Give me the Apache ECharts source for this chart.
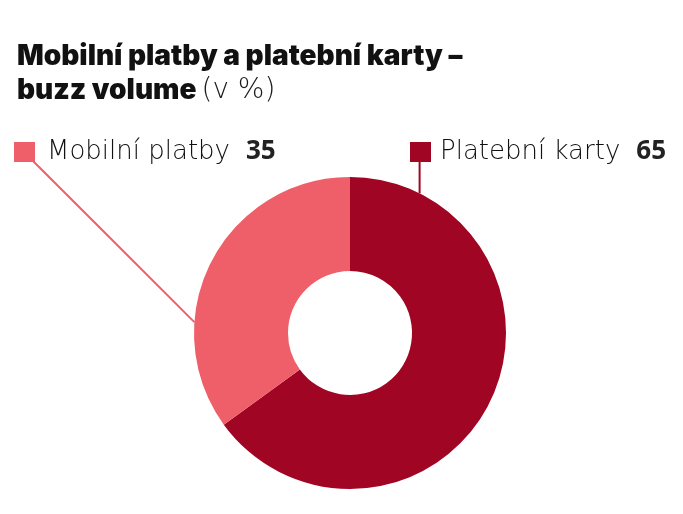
<!DOCTYPE html>
<html>
<head>
<meta charset="utf-8">
<script src="https://cdn.jsdelivr.net/npm/echarts@6/dist/echarts.min.js"></script>
<style>html,body{margin:0;padding:0;background:#fff}#c{width:683px;height:514px}</style>
</head>
<body>
<div id="c"></div>
<script>
const categories = ['Platební karty', 'Mobilní platby'];
const values = [65, 35];
const colors = ['#A10524', '#EF5F69'];

const CX = 350, CY = 333, R_IN = 62, R_OUT = 156;

const chart = echarts.init(document.getElementById('c'), null, {renderer: 'canvas'});

function edgePoint(deg) {
  const a = deg * Math.PI / 180;
  return [CX + R_OUT * Math.cos(a), CY - R_OUT * Math.sin(a)];
}

const LIGHT = 'DejaVu Sans';

chart.setOption({
  animation: false,
  title: {
    left: 12, top: 35,
    text: '{h|Mobilní platby a platební karty –}\n{h|buzz volume} {l|(v %)}',
    textStyle: {
      rich: {
        h: {fontFamily: 'Inter', fontWeight: 900, fontSize: 28, color: '#111', lineHeight: 34},
        l: {fontFamily: LIGHT, fontWeight: 200, fontSize: 28, color: '#1a1a1a', lineHeight: 34}
      }
    }
  },
  series: [{
    type: 'pie',
    center: [CX, CY],
    radius: [R_IN, R_OUT],
    startAngle: 90,
    clockwise: true,
    data: categories.map((n, i) => ({name: n, value: values[i], itemStyle: {color: colors[i]}})),
    label: {
      show: true,
      width: 400,
      overflow: 'none',
      formatter: p => '{sq' + p.dataIndex + '|}{n' + p.dataIndex + '|' + p.name + '}{v|' + p.value + '}',
      rich: {
        sq0: {width: 21, height: 20, backgroundColor: colors[0]},
        sq1: {width: 21, height: 20, backgroundColor: colors[1]},
        n0: {fontFamily: LIGHT, fontWeight: 200, fontSize: 26, color: '#111', padding: [0, 0, 0, 9], lineHeight: 30},
        n1: {fontFamily: LIGHT, fontWeight: 200, fontSize: 26, color: '#111', padding: [0, 0, 0, 12], lineHeight: 30},
        v: {fontFamily: 'Open Sans', fontWeight: 700, fontSize: 26, color: '#222', padding: [0, 0, 0, 16], lineHeight: 30}
      }
    },
    labelLine: {show: true, lineStyle: {width: 2}},
    labelLayout: function (p) {
      if (p.dataIndex === 1) {
        const e = edgePoint(176);
        return {
          x: 14, y: 152, align: 'left', verticalAlign: 'middle',
          labelLinePoints: [[33, 161], [(33 + e[0]) / 2, (161 + e[1]) / 2], e]
        };
      } else {
        const e = edgePoint(63.5);
        return {
          x: 410, y: 152, align: 'left', verticalAlign: 'middle',
          labelLinePoints: [[e[0], 161], [e[0], (161 + e[1]) / 2], e]
        };
      }
    }
  }]
});
</script>
</body>
</html>
